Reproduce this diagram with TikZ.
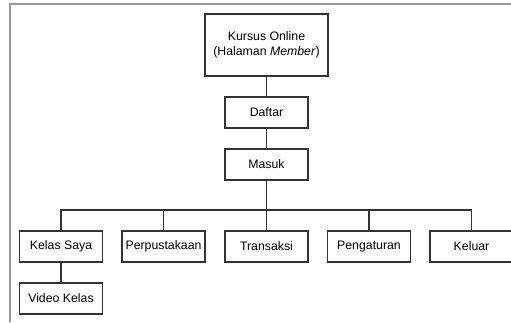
\documentclass[tikz,border=0pt]{standalone}
\usepackage{fontspec}
\setmainfont{Liberation Sans}
\tikzset{
  menubox/.style={draw=black!80, line width=0.9pt, minimum width=2.49cm, minimum height=0.93cm,
    inner sep=1pt, align=center, font=\fontsize{10.5}{13}\selectfont},
  link/.style={draw=black!80, line width=0.9pt},
  frame/.style={draw=black!40, line width=1.2pt}
}
\begin{document}
\begin{tikzpicture}[x=0.03cm,y=-0.03cm]
	\useasboundingbox (0,0) rectangle (511,322);
	\draw[frame] (10,322) -- (10,4) -- (511,4);
	% atas
	\node[menubox, minimum width=3.69cm, minimum height=1.86cm] (kursus) at (266.5,45) {Kursus Online\\(Halaman \textit{Member})};
	\node[menubox] (daftar) at (266.5,112.5) {Daftar};
	\node[menubox] (masuk) at (266.5,164.5) {Masuk};
	% menu
	\node[menubox] (kelas) at (61,246.5) {Kelas Saya};
	\node[menubox] (perpus) at (163.5,246.5) {Perpustakaan};
	\node[menubox] (transaksi) at (266.5,246.5) {Transaksi};
	\node[menubox] (pengaturan) at (369,246.5) {Pengaturan};
	\node[menubox] (keluar) at (471.5,246.5) {Keluar};
	\node[menubox] (video) at (61,298.5) {Video Kelas};
	\coordinate (bus) at (266.5,210);
	\draw[link] (kursus) -- (daftar);
	\draw[link] (daftar) -- (masuk);
	\draw[link] (masuk) -- (transaksi);
	\foreach \n in {kelas,perpus,pengaturan,keluar}
		\draw[link] (bus) -| (\n.north);
	\draw[link] (kelas) -- (video);
\end{tikzpicture}
\end{document}
